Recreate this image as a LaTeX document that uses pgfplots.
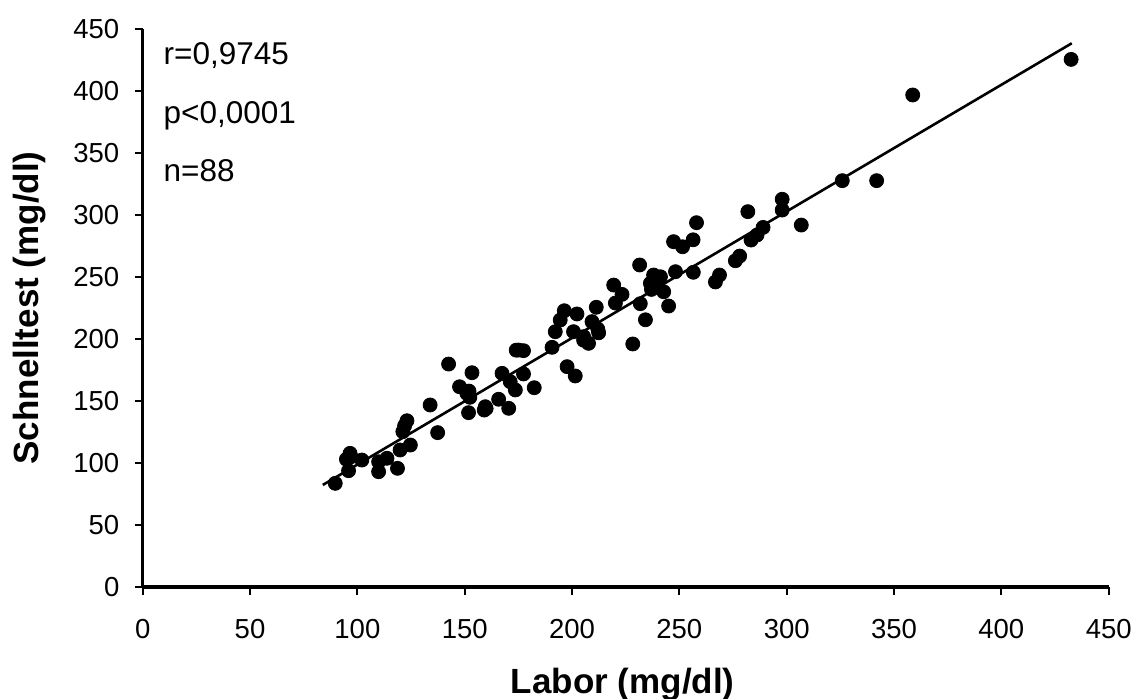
\documentclass[border=0pt]{standalone}
\usepackage{fontspec}
\setmainfont{Liberation Sans}
\usepackage{pgfplots}
\pgfplotsset{compat=1.18}
\begin{document}
\begin{tikzpicture}
\begin{axis}[
  at={(0,0)}, anchor=south west,
  scale only axis,
  width=483pt, height=279pt,
  xmin=0, xmax=450, ymin=0, ymax=450,
  xtick={0,50,...,450}, ytick={0,50,...,450},
  axis x line=bottom, axis y line=left,
  axis line style={-, line width=1.6pt},
  tick align=outside,
  major tick length=4pt,
  tick style={line width=1pt, black},
  /pgf/number format/assume math mode=true,
  tick label style={font=\fontsize{13.75}{16}\selectfont},
  xticklabel style={anchor=base, inner sep=0pt, yshift=-21.8pt},
  yticklabel style={anchor=east, inner sep=0pt, xshift=-7.5pt},
  xlabel={Labor (mg/dl)},
  ylabel={Schnelltest (mg/dl)},
  label style={font=\fontsize{17.5}{20}\selectfont\bfseries},
  xlabel style={at={(axis description cs:0.497,-0.190)}, anchor=base},
  ylabel style={at={(axis description cs:-0.1074,0.5)}, anchor=base, rotate=0},
  clip=false,
]
\addplot[only marks, mark=*, mark size=3.5pt, black, fill=black] coordinates {
(89.7,83.6) (95.9,93.8) (94.9,103) (96.6,107.8) (102.1,102.4) (109.9,101)
(109.9,93) (113.8,103.8) (118.7,95.7) (119.9,110.5) (121.2,125.3) (123.1,134.1)
(124.7,114.5) (133.9,146.8) (137.4,124.5) (142.5,179.8) (147.6,161.5) (151,156.2)
(152.4,153) (151.8,140.6) (153.4,172.8) (159.6,145.4) (159.1,142.7) (165.8,151.4)
(170.5,144.1) (167.4,172.3) (171.2,165.6) (173.6,158.9) (177.4,171.8) (182.4,160.7)
(175.1,191.1) (177.4,190.6) (190.7,193.3) (192.2,205.9) (194.5,215.3) (196.4,222.8)
(197.7,177.7) (201.5,170.2) (202.3,220.2) (200.7,205.9) (205.4,201.9) (207.7,196.5)
(209.3,214) (212.4,205) (211.3,225.6) (219.4,243.5) (220.2,229) (223.3,236)
(228.3,196) (231.5,259.7) (231.8,228.5) (234.2,215.5) (236.5,244.9) (238,251.6)
(239.6,242.2) (241.2,250.2) (242.7,238.1) (245,226.6) (247.3,278.5) (248.2,254.3)
(251.5,274.4) (256.4,280) (256.5,253.8) (258,293.8) (266.8,246) (268.7,251.6)
(276.1,263.1) (278.1,266.9) (281.9,302.7) (283.4,279.8) (286.2,283.9) (289,290)
(297.9,312.7) (297.9,304) (306.8,291.9) (325.9,327.7) (341.9,327.7) (358.7,396.8)
(432.5,425.5)
(240,247) (205.4,199) (152,158) (97,105) (122,130) (174,191) (237,240) (212,208) (160,144)
};
\addplot[black, line width=1.3pt, no marks] coordinates {(83.9,82.3) (432.8,438.5)};
\node[anchor=base west, inner sep=0pt, font=\fontsize{15.75}{18}\selectfont] at (axis cs:9.6,421) {r=0,9745};
\node[anchor=base west, inner sep=0pt, font=\fontsize{15.75}{18}\selectfont] at (axis cs:9.6,373.4) {p<0,0001};
\node[anchor=base west, inner sep=0pt, font=\fontsize{15.75}{18}\selectfont] at (axis cs:9.6,326.9) {n=88};
\end{axis}
\pgfresetboundingbox
\path (-71.35pt,-55.5pt) rectangle (496.65pt,293.5pt);
\end{tikzpicture}
\end{document}
